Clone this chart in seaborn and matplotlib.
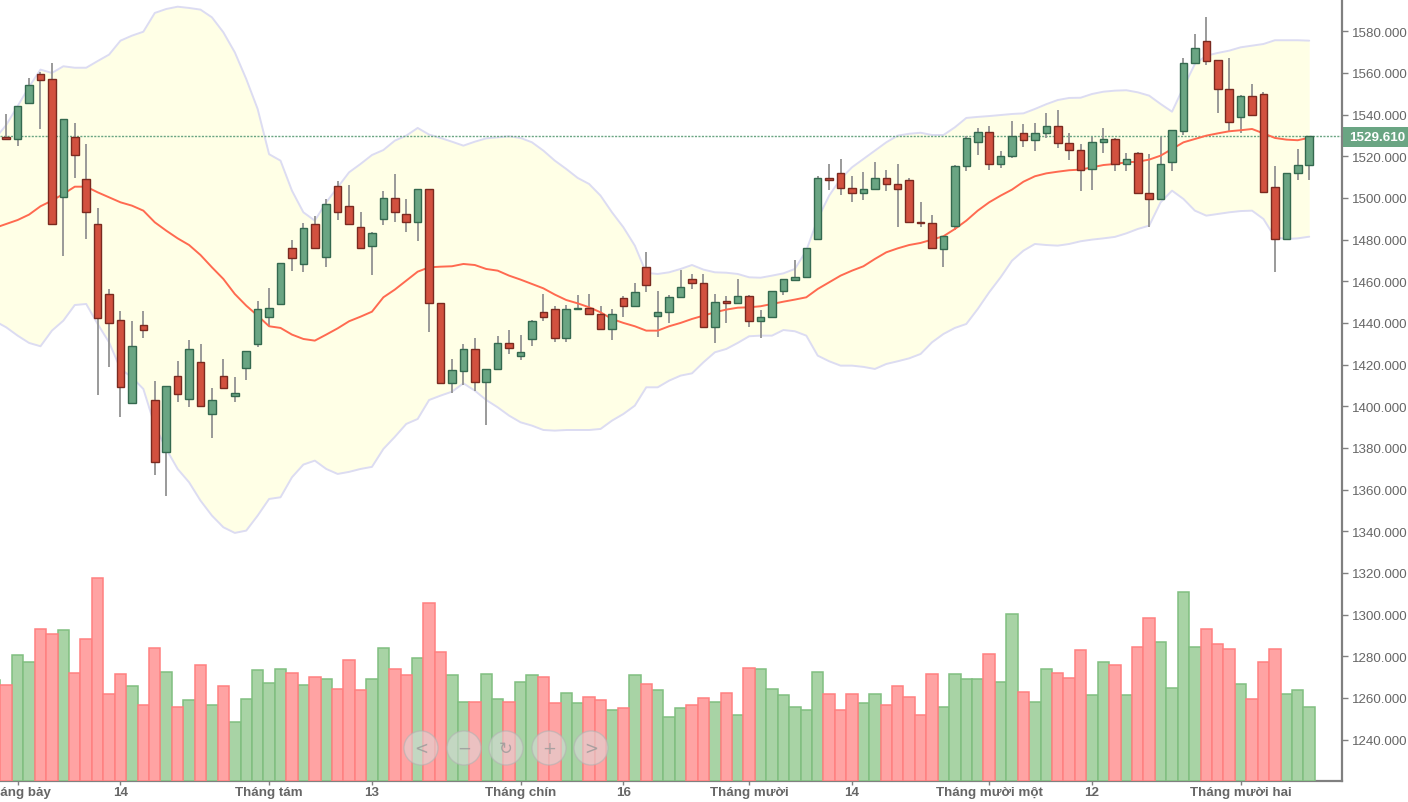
import numpy as np
import pandas as pd
import matplotlib
matplotlib.use('Agg')
import matplotlib.pyplot as plt
from matplotlib.patches import Circle, Rectangle
import seaborn as sns

# candles, oldest first
open_p = [1529.3,1528.3,1545.6,1559.3,1557.1,1500.5,1529.3,1508.9,1487.3,1453.9,
          1441.4,1401.6,1439.0,1403.0,1378.2,1414.7,1403.5,1421.3,1396.3,1414.7,
          1405.1,1418.4,1429.9,1442.9,1449.1,1476.0,1468.3,1487.5,1471.7,1505.9,
          1496.3,1486.2,1477.1,1489.8,1500.0,1492.3,1488.5,1504.3,1449.6,1411.2,
          1417.1,1427.5,1411.7,1417.9,1430.4,1424.3,1432.3,1445.4,1446.7,1432.8,
          1446.6,1447.2,1444.3,1437.1,1452.0,1448.3,1467.0,1443.5,1445.4,1452.6,
          1461.1,1459.2,1438.2,1450.4,1449.6,1453.1,1441.1,1442.9,1455.5,1460.8,
          1462.2,1480.2,1509.6,1512.0,1504.8,1502.4,1504.2,1509.6,1506.6,1508.5,
          1488.6,1488.0,1475.4,1486.7,1515.5,1527.0,1531.8,1516.2,1520.3,1531.2,
          1527.7,1531.2,1534.7,1526.4,1522.9,1513.9,1526.9,1528.2,1516.2,1521.6,
          1502.4,1499.4,1517.4,1532.3,1564.8,1575.5,1566.1,1552.2,1539.0,1549.1,
          1549.8,1505.3,1480.2,1512.0,1515.7]
close_p = [1528.3,1544.3,1554.0,1556.4,1487.5,1537.9,1520.4,1493.3,1442.4,1440.0,
           1409.4,1429.1,1436.8,1373.4,1409.9,1405.9,1427.5,1400.3,1403.0,1408.8,
           1406.4,1426.7,1446.7,1447.2,1468.8,1471.2,1485.6,1476.0,1497.1,1493.4,
           1487.5,1476.0,1483.2,1500.0,1493.3,1488.5,1504.3,1449.6,1411.2,1417.4,
           1427.5,1411.7,1417.9,1430.4,1428.0,1426.2,1440.9,1442.9,1432.8,1446.7,
           1447.2,1444.3,1437.1,1444.3,1448.3,1455.0,1458.1,1445.4,1452.6,1457.4,
           1459.0,1438.2,1450.2,1449.4,1453.1,1441.1,1443.0,1455.5,1461.0,1462.2,
           1476.0,1509.6,1508.8,1504.8,1502.4,1504.2,1509.6,1506.6,1504.2,1488.5,
           1487.8,1476.0,1481.9,1515.5,1528.8,1531.8,1516.2,1520.3,1529.9,1527.7,
           1531.2,1534.7,1526.4,1522.9,1513.6,1527.0,1528.2,1516.2,1518.6,1502.4,
           1499.4,1516.2,1532.5,1564.8,1572.0,1565.9,1552.2,1536.5,1549.1,1540.0,
           1503.0,1480.2,1512.0,1515.7,1529.6]
high_p = [1540.3,1544.3,1557.6,1560.5,1565.0,1537.9,1536.0,1525.9,1495.2,1456.3,
          1445.7,1441.0,1445.7,1412.3,1409.9,1421.9,1431.8,1429.9,1408.8,1422.7,
          1414.2,1426.7,1450.7,1456.8,1468.8,1479.8,1488.1,1491.3,1499.5,1508.3,
          1506.2,1493.3,1483.8,1503.2,1511.5,1499.5,1504.3,1504.3,1449.6,1422.7,
          1429.9,1432.9,1417.9,1433.7,1436.6,1434.2,1441.4,1453.9,1448.1,1448.6,
          1453.4,1454.0,1448.1,1446.7,1453.1,1459.3,1474.1,1455.3,1453.4,1465.4,
          1463.6,1463.5,1453.9,1452.9,1461.1,1453.4,1446.2,1455.5,1461.1,1470.2,
          1476.0,1510.4,1516.3,1518.8,1510.4,1512.3,1517.1,1513.4,1516.3,1509.7,
          1497.9,1491.7,1481.9,1515.8,1529.9,1533.7,1534.4,1522.4,1536.8,1535.5,
          1536.1,1540.8,1542.1,1531.2,1525.9,1529.3,1533.7,1528.6,1521.7,1522.2,
          1521.1,1529.4,1532.5,1567.3,1578.7,1586.7,1566.2,1567.3,1549.4,1554.7,
          1551.0,1515.2,1512.0,1523.5,1529.6]
low_p = [1528.3,1524.9,1545.6,1533.1,1487.5,1472.1,1509.6,1480.3,1405.6,1418.9,
         1394.9,1401.6,1432.8,1367.2,1357.1,1402.1,1399.7,1400.3,1384.8,1408.3,
         1402.1,1412.8,1428.5,1438.5,1449.1,1465.1,1464.5,1476.0,1466.9,1489.6,
         1487.5,1476.0,1463.2,1487.0,1488.5,1483.7,1479.3,1435.7,1411.2,1406.4,
         1410.4,1407.3,1391.2,1417.9,1425.2,1422.2,1428.9,1440.9,1430.9,1430.9,
         1446.6,1444.3,1437.1,1431.9,1442.9,1448.3,1454.9,1433.3,1440.0,1452.6,
         1456.4,1438.2,1430.4,1440.0,1449.6,1438.1,1432.8,1442.9,1453.6,1460.2,
         1462.2,1480.2,1504.0,1501.4,1497.9,1499.0,1504.2,1503.3,1485.9,1488.5,
         1486.1,1476.0,1466.7,1484.8,1512.9,1520.8,1513.6,1514.2,1519.0,1524.5,
         1522.7,1528.8,1523.8,1518.4,1503.5,1504.0,1521.4,1512.9,1512.9,1502.4,
         1485.9,1499.4,1512.9,1530.2,1564.8,1563.8,1540.6,1531.8,1531.0,1540.0,
         1503.0,1464.3,1480.2,1508.8,1508.8]

# bollinger band and volume start one bar further left, that bar is cut off by the frame
band_upper = [1528.3,1535.0,1544.1,1553.3,1561.6,1560.0,1563.2,1562.5,1562.5,1565.7,1568.8,
              1575.5,1577.9,1579.8,1588.8,1590.7,1591.8,1591.2,1590.4,1586.7,1579.5,
              1569.9,1557.1,1542.7,1521.0,1517.9,1503.5,1493.1,1489.1,1497.9,1505.1,
              1512.3,1516.3,1520.6,1523.0,1527.5,1529.9,1533.6,1530.4,1528.8,1527.0,
              1525.1,1527.0,1528.6,1529.1,1529.6,1528.8,1526.7,1522.7,1517.9,1513.9,
              1509.6,1506.7,1501.1,1493.1,1485.9,1477.1,1464.0,1463.5,1464.3,1465.9,
              1467.8,1465.6,1464.3,1464.1,1463.5,1461.9,1461.7,1462.7,1463.8,1465.9,
              1474.7,1489.9,1501.1,1509.1,1514.7,1518.7,1522.7,1526.7,1529.9,1530.8,
              1531.3,1530.2,1530.2,1533.9,1538.4,1538.9,1539.3,1539.8,1540.3,1540.6,
              1542.7,1545.0,1547.0,1548.0,1548.1,1549.9,1551.0,1551.5,1551.7,1550.7,
              1549.1,1545.1,1541.4,1553.1,1564.3,1568.3,1569.6,1570.7,1572.3,1573.1,
              1573.9,1575.7,1575.7,1575.7,1575.5]
band_lower = [1440.9,1437.9,1433.9,1430.4,1428.8,1436.3,1441.1,1448.6,1449.1,1439.5,1430.7,
              1417.9,1413.9,1408.3,1390.7,1379.5,1369.9,1363.5,1354.7,1347.5,1341.9,
              1339.2,1340.3,1347.5,1355.5,1356.3,1365.9,1372.0,1373.9,1369.9,1367.5,
              1368.5,1369.9,1370.9,1379.5,1385.3,1391.5,1393.9,1403.0,1405.1,1407.0,
              1411.0,1407.5,1403.0,1399.5,1395.5,1392.3,1390.7,1388.6,1388.3,1388.6,
              1388.6,1388.6,1389.1,1393.1,1396.3,1400.3,1409.1,1409.1,1412.3,1414.7,
              1415.8,1421.1,1425.9,1427.5,1430.4,1433.6,1433.9,1433.9,1436.6,1436.0,
              1433.9,1424.3,1421.6,1419.5,1419.5,1418.9,1417.9,1420.3,1421.6,1423.0,
              1425.1,1430.7,1434.7,1437.6,1439.5,1446.7,1454.7,1461.9,1469.9,1474.7,
              1477.9,1477.4,1477.1,1477.9,1479.2,1480.0,1480.6,1481.3,1483.0,1485.1,
              1486.7,1497.9,1503.5,1499.5,1493.9,1491.5,1492.3,1493.1,1493.7,1493.9,
              1489.9,1481.1,1480.3,1480.6,1481.4]
band_mid = [1485.6,1487.5,1489.4,1492.0,1496.0,1498.7,1501.9,1505.4,1505.4,1502.7,1500.3,
            1497.9,1496.3,1493.9,1488.3,1484.3,1480.6,1477.4,1472.6,1466.7,1461.1,
            1453.9,1448.3,1443.5,1438.4,1437.6,1434.4,1432.3,1431.5,1434.4,1437.4,
            1440.8,1443.0,1445.4,1452.3,1456.0,1460.3,1464.6,1466.7,1467.0,1467.2,
            1468.3,1467.8,1465.9,1465.1,1462.7,1460.8,1458.7,1456.6,1453.6,1451.0,
            1449.4,1447.5,1445.1,1441.9,1440.0,1438.4,1436.3,1436.3,1438.4,1440.0,
            1441.9,1443.5,1445.1,1446.4,1447.3,1447.5,1448.0,1449.1,1450.2,1451.2,
            1452.3,1456.3,1459.5,1462.7,1465.1,1467.2,1470.7,1473.9,1475.8,1477.4,
            1478.4,1480.0,1481.6,1485.1,1489.1,1493.9,1497.9,1501.1,1504.0,1507.8,
            1510.4,1511.8,1512.6,1513.3,1513.6,1514.7,1515.8,1516.3,1517.1,1517.4,
            1518.4,1520.3,1523.5,1526.7,1528.3,1529.9,1531.0,1532.0,1532.5,1533.1,
            1531.0,1528.8,1528.0,1527.7,1528.9]
volume = [48.5,45.9,60.4,57.3,73.0,70.6,72.4,52.0,68.2,97.6,41.8,
          51.4,45.5,36.4,63.9,52.5,35.7,38.8,55.6,36.4,45.5,
          28.5,39.2,53.2,47.2,53.8,52.0,46.0,50.1,49.0,44.2,
          58.0,43.6,49.0,63.9,53.8,50.8,59.1,85.6,62.1,50.8,
          38.1,38.1,51.4,39.2,38.1,47.7,50.8,50.1,37.5,42.3,
          37.5,40.5,38.8,34.0,35.2,50.8,46.6,43.6,30.9,35.2,
          36.4,39.9,38.1,42.3,31.6,54.3,53.8,44.2,41.2,35.7,
          34.0,52.5,41.8,34.0,41.8,37.5,41.8,36.4,45.5,40.5,
          31.6,51.4,35.7,51.4,49.0,49.0,60.8,47.7,80.2,42.9,
          38.1,53.8,52.0,49.6,62.8,41.2,57.3,55.6,41.2,64.5,
          78.3,66.9,44.8,90.9,64.5,73.0,65.6,63.4,46.6,39.2,
          57.3,63.4,41.8,43.6,35.7]

tick_bars = [1, 10, 23, 32, 45, 54, 65, 74, 86, 95, 108]
tick_labels = ['Tháng bảy', '14', 'Tháng tám', '13', 'Tháng chín', '16', 'Tháng mười', '14',
               'Tháng mười một', '12', 'Tháng mười hai']
price_ticks = list(range(1240, 1600, 20))
last_price = 1529.61
nav_labels = ['<', '\u2212', '\u21bb', '+', '>']

RED, RED_EDGE = '#d2513f', '#7a2a20'
GREEN, GREEN_EDGE = '#6aa583', '#34694f'
TEXT = '#666666'
AXIS = '#808080'

sns.set_theme(style='white')
plt.rcParams['font.family'] = ['Liberation Sans', 'DejaVu Sans']

bars = np.arange(len(open_p))
band_bars = np.arange(-1, len(open_p))
up = np.array(close_p) >= np.array(open_p)
bands = pd.DataFrame({'bar': band_bars, 'upper': band_upper, 'lower': band_lower, 'mid': band_mid})
vols = pd.DataFrame({'bar': band_bars, 'volume': volume, 'up': np.r_[True, up]})

fig = plt.figure(figsize=(14.08, 8.03), dpi=100)
ax = fig.add_axes([0, 21 / 803, 1342 / 1408, 782 / 803])

ax.fill_between(bands['bar'], bands['lower'], bands['upper'], color='#ffffe6', lw=0, zorder=1)
sns.lineplot(data=bands, x='bar', y='upper', color='#dcdcf2', lw=1.4, ax=ax, zorder=2)
sns.lineplot(data=bands, x='bar', y='lower', color='#dcdcf2', lw=1.4, ax=ax, zorder=2)
ax.axhline(last_price, color=GREEN, lw=1, ls=(0, (1.5, 1)), zorder=2)
sns.lineplot(data=bands, x='bar', y='mid', color='#ff6a50', lw=1.4, ax=ax, zorder=4)

# candles
ax.vlines(bars, low_p, high_p, color='#929292', lw=1.3, zorder=3)
body_low = np.minimum(open_p, close_p)
body_size = np.abs(np.array(close_p) - np.array(open_p))
ax.bar(bars[up], body_size[up], bottom=body_low[up], width=0.66, color=GREEN,
       edgecolor=GREEN_EDGE, lw=1.0, zorder=5)
ax.bar(bars[~up], body_size[~up], bottom=body_low[~up], width=0.66, color=RED,
       edgecolor=RED_EDGE, lw=1.0, zorder=5)

# volume on its own hidden scale
ax_vol = ax.twinx()
sns.barplot(data=vols[vols['up']], x='bar', y='volume', native_scale=True, width=1, saturation=1,
            color='#a8d3a5', edgecolor='#80bf80', lw=1.1, ax=ax_vol, zorder=2)
sns.barplot(data=vols[~vols['up']], x='bar', y='volume', native_scale=True, width=1, saturation=1,
            color='#ffa3a3', edgecolor='#ff8080', lw=1.1, ax=ax_vol, zorder=2)
ax_vol.set_ylim(0, 375.4)
ax_vol.axis('off')

ax.set_xlim(-0.542, 116.87)
ax.set_ylim(1220.1, 1595.5)
ax.set_yticks(price_ticks)
ax.set_yticklabels(['%.3f' % p for p in price_ticks], fontsize=9.6, color=TEXT)
ax.set_xticks(tick_bars)
ax.set_xticklabels(tick_labels, fontsize=9.6, color=TEXT, fontweight='bold')
ax.yaxis.tick_right()  # twinx moves them to the left
ax.tick_params(axis='y', length=4, width=1, color=AXIS, pad=3, right=True, left=False)
ax.tick_params(axis='x', length=3, width=1, color=AXIS, pad=0.5, bottom=True)
ax.set_xlabel('')
ax.set_ylabel('')
for side in ['top', 'left']:
    ax.spines[side].set_visible(False)
for side in ['right', 'bottom']:
    ax.spines[side].set_color(AXIS)
    ax.spines[side].set_linewidth(1.6)

# pixel overlay for the last price box and the zoom buttons
overlay = fig.add_axes([0, 0, 1, 1], facecolor='none')
overlay.set_xlim(0, 1408)
overlay.set_ylim(803, 0)
overlay.axis('off')
overlay.add_patch(Rectangle((1343, 128), 65, 19.5, fc=GREEN, ec='none'))
overlay.text(1377, 137.7, '%.3f' % last_price, ha='center', va='center', fontsize=9.6,
             fontweight='bold', color='white')
for cx, label in zip([421, 464, 506, 549, 591], nav_labels):
    overlay.add_patch(Circle((cx, 749), 17, fc=(0.86, 0.86, 0.86, 0.55), ec=(0.7, 0.7, 0.7, 0.6), lw=1))
    overlay.text(cx, 749, label, ha='center', va='center', fontsize=12, color=(0.6, 0.6, 0.6, 0.8),
                 family='DejaVu Sans')

fig.savefig('out.png', dpi=100)
